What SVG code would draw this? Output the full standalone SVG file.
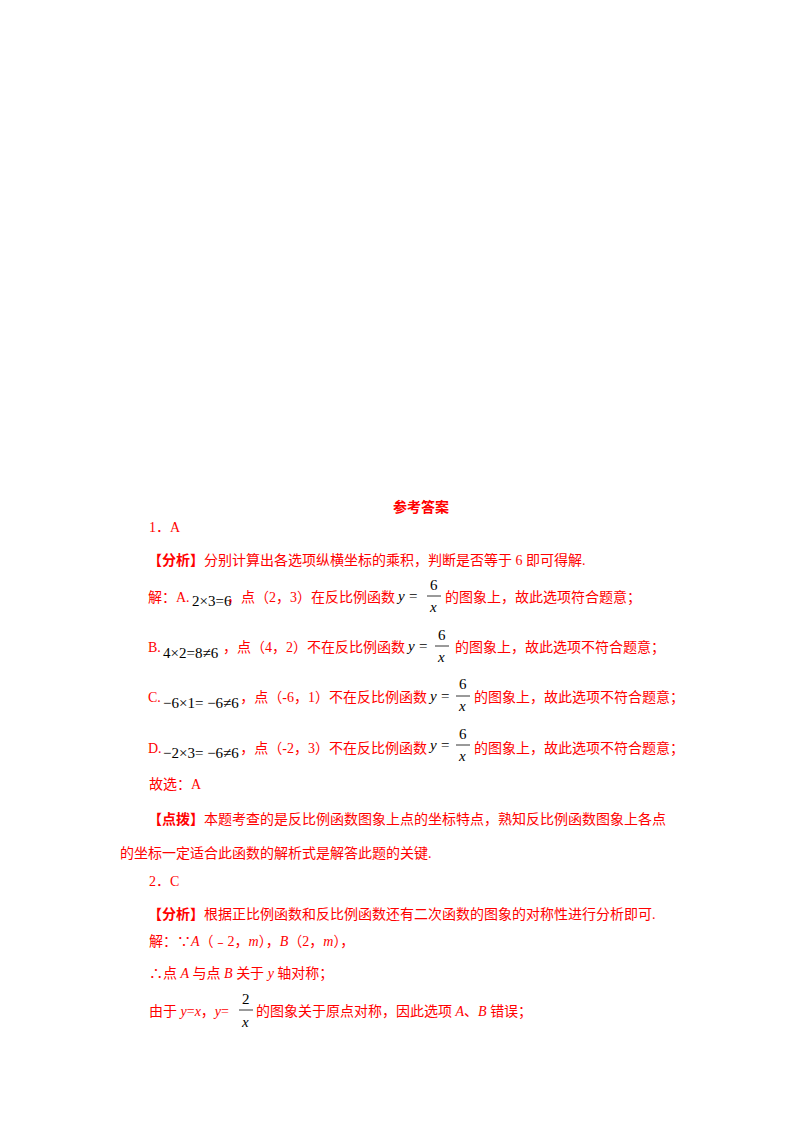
<svg xmlns="http://www.w3.org/2000/svg" width="800" height="1132" viewBox="0 0 800 1132">
<style>
.t{font-family:"Liberation Serif","Noto Sans CJK SC",serif;font-size:14px;fill:#ff0000}
.b{font-weight:bold}
.m{font-family:"Liberation Serif",serif;font-size:15px;fill:#000}
.i{font-style:italic}
.fl{stroke:#000;stroke-width:0.8}
</style>
<rect width="800" height="1132" fill="#fff"/>
<text class="t b" x="421" y="512" text-anchor="middle">参考答案</text>
<text class="t" x="149" y="532">1．A</text>
<text class="t" x="148" y="565"><tspan class="b">【分析】</tspan>分别计算出各选项纵横坐标的乘积，判断是否等于 6 即可得解.</text>
<g id="optA">
<text class="t" x="148" y="602">解：A.</text>
<text class="m" x="192" y="606">2×3=6</text>
<text class="t" x="395" y="602" text-anchor="end">，点（2，3）在反比例函数</text>
<text class="m i" x="398" y="601">y</text><text class="m" x="409" y="601">=</text>
<text class="m" x="430" y="590">6</text><line class="fl" x1="427" y1="596" x2="441" y2="596"/><text class="m i" x="430" y="612">x</text>
<text class="t" x="445" y="602">的图象上，故此选项符合题意；</text>
</g>
<g id="optB">
<text class="t" x="148" y="652">B.</text>
<text class="m" x="163" y="658">4×2=8≠6</text>
<text class="t" x="405" y="652" text-anchor="end">，点（4，2）不在反比例函数</text>
<text class="m i" x="408" y="651">y</text><text class="m" x="419" y="651">=</text>
<text class="m" x="438" y="640">6</text><line class="fl" x1="435" y1="646" x2="449" y2="646"/><text class="m i" x="438" y="662">x</text>
<text class="t" x="455" y="652">的图象上，故此选项不符合题意；</text>
</g>
<g id="optC">
<text class="t" x="148" y="702">C.</text>
<text class="m" x="163" y="708">−6×1= −6≠6</text>
<text class="t" x="427" y="702" text-anchor="end">，点（-6，1）不在反比例函数</text>
<text class="m i" x="430" y="701">y</text><text class="m" x="441" y="701">=</text>
<text class="m" x="459" y="689">6</text><line class="fl" x1="456" y1="696" x2="470" y2="696"/><text class="m i" x="459" y="711">x</text>
<text class="t" x="474" y="702">的图象上，故此选项不符合题意；</text>
</g>
<g id="optD">
<text class="t" x="148" y="753">D.</text>
<text class="m" x="163" y="758">−2×3= −6≠6</text>
<text class="t" x="427" y="753" text-anchor="end">，点（-2，3）不在反比例函数</text>
<text class="m i" x="430" y="750">y</text><text class="m" x="441" y="750">=</text>
<text class="m" x="459" y="739">6</text><line class="fl" x1="456" y1="745" x2="470" y2="745"/><text class="m i" x="459" y="761">x</text>
<text class="t" x="474" y="753">的图象上，故此选项不符合题意；</text>
</g>
<text class="t" x="149" y="789">故选：A</text>
<text class="t" x="148" y="824"><tspan class="b">【点拨】</tspan>本题考查的是反比例函数图象上点的坐标特点，熟知反比例函数图象上各点</text>
<text class="t" x="120" y="858">的坐标一定适合此函数的解析式是解答此题的关键.</text>
<text class="t" x="149" y="886">2．C</text>
<text class="t" x="148" y="919"><tspan class="b">【分析】</tspan>根据正比例函数和反比例函数还有二次函数的图象的对称性进行分析即可.</text>
<text class="t" x="149" y="946">解：∵<tspan font-style="italic">A</tspan>（﹣2，<tspan font-style="italic">m</tspan>），<tspan font-style="italic">B</tspan>（2，<tspan font-style="italic">m</tspan>），</text>
<text class="t" x="149" y="978">∴点 <tspan font-style="italic">A</tspan> 与点 <tspan font-style="italic">B</tspan> 关于 <tspan font-style="italic">y</tspan> 轴对称；</text>
<g id="q2line">
<text class="t" x="149" y="1016">由于 <tspan font-style="italic">y</tspan>=<tspan font-style="italic">x</tspan>，<tspan font-style="italic">y</tspan>=</text>
<text class="m" x="242" y="1004">2</text><line class="fl" x1="239" y1="1010" x2="253" y2="1010"/><text class="m i" x="242" y="1027">x</text>
<text class="t" x="256" y="1016">的图象关于原点对称，因此选项 <tspan font-style="italic">A</tspan>、<tspan font-style="italic">B</tspan> 错误；</text>
</g>
</svg>
